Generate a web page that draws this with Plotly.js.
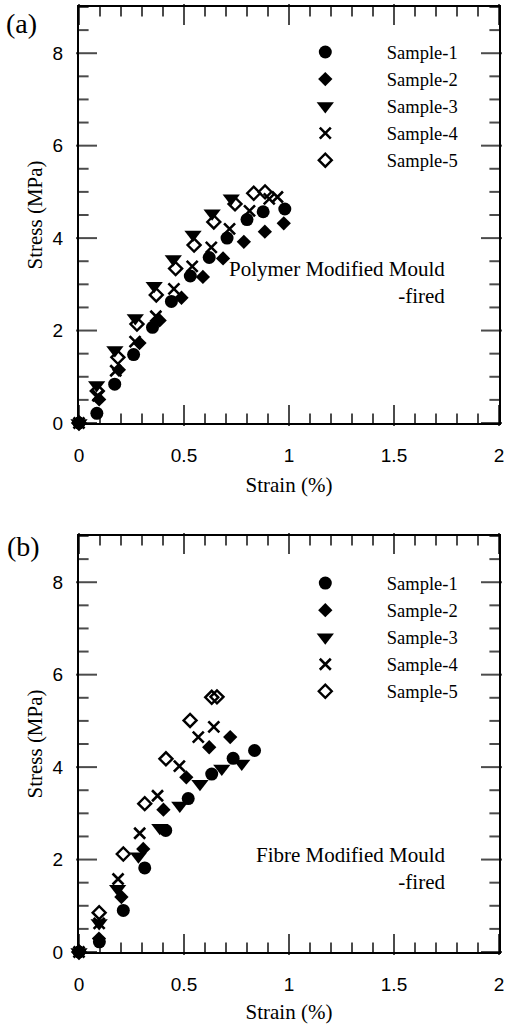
<!DOCTYPE html>
<html>
<head>
<meta charset="utf-8">
<script src="https://cdn.plot.ly/plotly-3.0.1.min.js"></script>
<style>html,body{margin:0;padding:0;background:#fff;}#chart{width:515px;height:1024px;}</style>
</head>
<body>
<div id="chart"></div>
<script>
// ---------- Data: panel (a) Polymer Modified Mould -fired ----------
const a_s1_x = [0, 0.085, 0.17, 0.26, 0.35, 0.44, 0.53, 0.62, 0.705, 0.80, 0.877, 0.98];
const a_s1_y = [0, 0.21, 0.84, 1.48, 2.07, 2.63, 3.18, 3.58, 4.00, 4.40, 4.57, 4.63];
const a_s2_x = [0, 0.096, 0.19, 0.288, 0.384, 0.488, 0.59, 0.686, 0.785, 0.885, 0.975];
const a_s2_y = [0, 0.51, 1.15, 1.73, 2.22, 2.71, 3.16, 3.56, 3.92, 4.14, 4.32];
const a_s3_x = [0, 0.084, 0.171, 0.268, 0.358, 0.449, 0.543, 0.634, 0.725];
const a_s3_y = [0, 0.82, 1.58, 2.27, 2.97, 3.55, 4.08, 4.54, 4.86];
const a_s4_x = [0, 0.09, 0.175, 0.267, 0.366, 0.452, 0.539, 0.63, 0.717, 0.812, 0.906, 0.945];
const a_s4_y = [0, 0.59, 1.13, 1.76, 2.31, 2.90, 3.39, 3.80, 4.20, 4.59, 4.85, 4.89];
const a_s5_x = [0, 0.087, 0.185, 0.276, 0.368, 0.46, 0.548, 0.642, 0.743, 0.832, 0.886];
const a_s5_y = [0, 0.69, 1.42, 2.14, 2.77, 3.34, 3.85, 4.35, 4.74, 4.97, 5.00];

// ---------- Data: panel (b) Fibre Modified Mould -fired ----------
const b_s1_x = [0, 0.097, 0.211, 0.313, 0.413, 0.52, 0.632, 0.734, 0.836];
const b_s1_y = [0, 0.22, 0.90, 1.82, 2.63, 3.32, 3.85, 4.19, 4.36];
const b_s2_x = [0, 0.095, 0.202, 0.306, 0.402, 0.511, 0.62, 0.72];
const b_s2_y = [0, 0.29, 1.19, 2.23, 3.08, 3.78, 4.43, 4.65];
const b_s3_x = [0, 0.096, 0.184, 0.283, 0.385, 0.48, 0.576, 0.68, 0.775];
const b_s3_y = [0, 0.63, 1.37, 2.07, 2.69, 3.17, 3.64, 3.97, 4.08];
const b_s4_x = [0, 0.096, 0.186, 0.289, 0.374, 0.478, 0.568, 0.642];
const b_s4_y = [0, 0.62, 1.58, 2.57, 3.38, 4.02, 4.65, 4.87];
const b_s5_x = [0, 0.096, 0.211, 0.313, 0.414, 0.529, 0.632, 0.657];
const b_s5_y = [0, 0.85, 2.12, 3.21, 4.18, 5.01, 5.51, 5.52];

const seriesNames = ["Sample-1", "Sample-2", "Sample-3", "Sample-4", "Sample-5"];
const xTickVals = [0, 0.5, 1, 1.5, 2];
const xTickText = ["0", "0.5", "1", "1.5", "2"];
const yTickVals = [0, 2, 4, 6, 8];
const yTickText = ["0", "2", "4", "6", "8"];
const panelLabels = ["(a)", "(b)"];
const panelNotes = ["Polymer Modified Mould<br>-fired", "Fibre Modified Mould<br>-fired"];
const xTitle = "Strain (%)";
const yTitle = "Stress (MPa)";

// ---------- Styles / geometry ----------
const W = 515, H = 1024;
const M = {l: 79, r: 16, t: 7, b: 72};
const domA = [0.5598, 1];
const domB = [0, 0.4402];
const xRange = [xTickVals[0], xTickVals[xTickVals.length - 1]];
const yRange = [0, 9];
const xMinorStep = 0.1, yMinorStep = 0.5;
const majorLen = 15, minorLen = 8;   // tick lengths in px (inward)

const markerStyles = [
  {symbol: "circle", size: 13, color: "#000"},
  {symbol: "diamond", size: 11, color: "#000"},
  {symbol: "triangle-down", size: 15, color: "#000"},
  {symbol: "x-thin-open", size: 11, color: "#000", line: {width: 2.6, color: "#000"}},
  {symbol: "diamond-open", size: 10, color: "#000", line: {width: 2.4, color: "#000"}}
];

// inward tick marks on all four sides, drawn as line-shaped markers built from the axis ranges & tick values
function tickTrace(xa, ya, dom) {
  const pxPerX = (W - M.l - M.r) / (xRange[1] - xRange[0]);
  const pxPerY = (H - M.t - M.b) * (dom[1] - dom[0]) / (yRange[1] - yRange[0]);
  const isMajor = (vals, v) => vals.some(t => Math.abs(t - v) < 1e-9);
  const X = [], Y = [], S = [], Z = [];
  for (let k = 0; xRange[0] + k * xMinorStep <= xRange[1] + 1e-9; k++) {
    const v = +(xRange[0] + k * xMinorStep).toFixed(4);
    const len = isMajor(xTickVals, v) ? majorLen : minorLen;
    const h = (len / 2) / pxPerY;
    X.push(v, v); Y.push(yRange[0] + h, yRange[1] - h);
    S.push("line-ns", "line-ns"); Z.push(len, len);
  }
  for (let k = 0; yRange[0] + k * yMinorStep <= yRange[1] + 1e-9; k++) {
    const v = +(yRange[0] + k * yMinorStep).toFixed(4);
    const len = isMajor(yTickVals, v) ? majorLen : minorLen;
    const h = (len / 2) / pxPerX;
    X.push(xRange[0] + h, xRange[1] - h); Y.push(v, v);
    S.push("line-ew", "line-ew"); Z.push(len, len);
  }
  return {type: "scatter", mode: "markers", x: X, y: Y, xaxis: xa, yaxis: ya,
          marker: {symbol: S, size: Z, color: "#000", line: {color: "#000", width: 2}},
          showlegend: false, hoverinfo: "skip", cliponaxis: false};
}

const panelA = [[a_s1_x, a_s1_y], [a_s2_x, a_s2_y], [a_s3_x, a_s3_y], [a_s4_x, a_s4_y], [a_s5_x, a_s5_y]];
const panelB = [[b_s1_x, b_s1_y], [b_s2_x, b_s2_y], [b_s3_x, b_s3_y], [b_s4_x, b_s4_y], [b_s5_x, b_s5_y]];

const traces = [tickTrace("x", "y", domA), tickTrace("x2", "y2", domB)];
panelA.forEach((d, i) => traces.push({
  type: "scatter", mode: "markers", x: d[0], y: d[1], name: seriesNames[i],
  xaxis: "x", yaxis: "y", legend: "legend", marker: markerStyles[i], cliponaxis: false
}));
panelB.forEach((d, i) => traces.push({
  type: "scatter", mode: "markers", x: d[0], y: d[1], name: seriesNames[i],
  xaxis: "x2", yaxis: "y2", legend: "legend2", marker: markerStyles[i], cliponaxis: false
}));

const serif = "Liberation Serif, Times New Roman, serif";
const sans = "Liberation Sans, Arial, sans-serif";

function axis(anchor, domain, range, vals, text, pad, title, standoff) {
  return {
    anchor: anchor, domain: domain, range: range, autorange: false,
    tickmode: "array", tickvals: vals, ticktext: text,
    ticks: "outside", ticklen: pad, tickwidth: 1, tickcolor: "rgba(0,0,0,0)",
    showline: true, linewidth: 2, linecolor: "#000", mirror: true,
    showgrid: false, zeroline: false, fixedrange: true,
    tickfont: {family: sans, size: 19, color: "#000"},
    title: {text: title, font: {family: serif, size: 21, color: "#000"}, standoff: standoff}
  };
}

const legendBase = {
  xanchor: "left", yanchor: "top", bgcolor: "rgba(0,0,0,0)", borderwidth: 0,
  font: {family: serif, size: 18.5, color: "#000"}, itemwidth: 113, tracegroupgap: 0,
  itemclick: false, itemdoubleclick: false
};

const layout = {
  width: W, height: H,
  margin: M,
  paper_bgcolor: "#fff", plot_bgcolor: "#fff",
  showlegend: true,
  xaxis: axis("y", [0, 1], xRange, xTickVals, xTickText, 14, xTitle, 13),
  yaxis: axis("x", domA, yRange, yTickVals, yTickText, 10, yTitle, 4),
  xaxis2: axis("y2", [0, 1], xRange, xTickVals, xTickText, 14, xTitle, 13),
  yaxis2: axis("x2", domB, yRange, yTickVals, yTickText, 10, yTitle, 4),
  legend: Object.assign({}, legendBase, {x: 0.44, y: 0.972}),
  legend2: Object.assign({}, legendBase, {x: 0.44, y: 0.410}),
  annotations: [
    {xref: "paper", yref: "paper", x: -0.137, y: 0.983, text: panelLabels[0], showarrow: false,
     xanchor: "center", yanchor: "middle", font: {family: serif, size: 28, color: "#000"}},
    {xref: "paper", yref: "paper", x: -0.131, y: 0.4296, text: panelLabels[1], showarrow: false,
     xanchor: "center", yanchor: "middle", font: {family: serif, size: 28, color: "#000"}},
    {xref: "x", yref: "y", x: 1.752, y: 3.05, text: panelNotes[0], showarrow: false,
     xanchor: "right", yanchor: "middle", align: "right", font: {family: serif, size: 21, color: "#000"}},
    {xref: "x2", yref: "y2", x: 1.752, y: 1.81, text: panelNotes[1], showarrow: false,
     xanchor: "right", yanchor: "middle", align: "right", font: {family: serif, size: 21, color: "#000"}}
  ]
};

Plotly.newPlot("chart", traces, layout, {displayModeBar: false, staticPlot: true});
</script>
</body>
</html>
